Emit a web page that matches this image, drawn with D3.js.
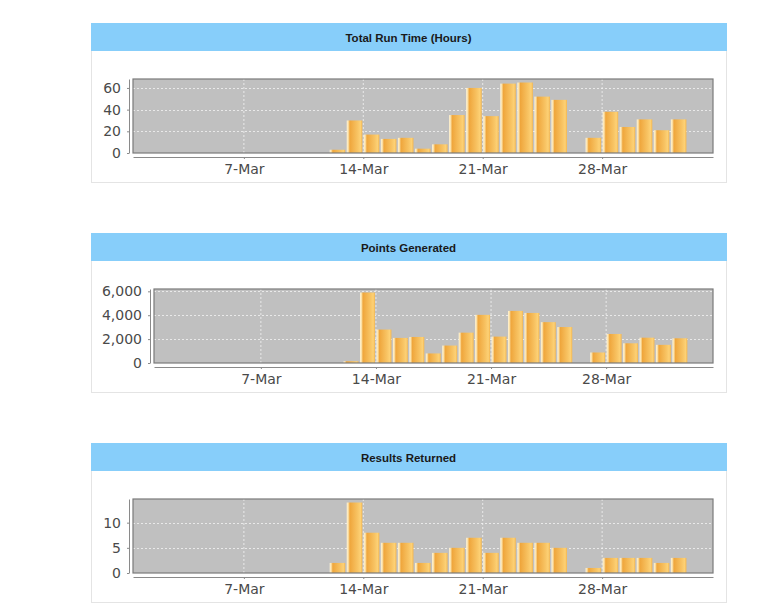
<!DOCTYPE html>
<html>
<head>
<meta charset="utf-8">
<script src="https://cdn.jsdelivr.net/npm/d3@7"></script>
<style>
  html, body { margin: 0; padding: 0; background: #fff; }
  svg { display: block; }
</style>
</head>
<body>
<svg id="chart" width="768" height="614"></svg>
<script>
// --- data ---
const days = [
    "2012-03-12", "2012-03-13", "2012-03-14", "2012-03-15", "2012-03-16", "2012-03-17", "2012-03-18",
    "2012-03-19", "2012-03-20", "2012-03-21", "2012-03-22", "2012-03-23", "2012-03-24", "2012-03-25",
    "2012-03-26", "2012-03-27", "2012-03-28", "2012-03-29", "2012-03-30", "2012-03-31", "2012-04-01",
];
const runTimeHours = [3, 30, 17, 13, 14, 4, 8, 35, 60, 34, 64, 65, 52, 49, null, 14, 38, 24, 31, 21, 31];
const pointsGenerated = [150, 5900, 2800, 2100, 2180, 800, 1460, 2540, 4030, 2210, 4360, 4190, 3420, 3010, null, 880, 2430, 1650, 2120, 1520, 2070];
const resultsReturned = [2, 14, 8, 6, 6, 2, 4, 5, 7, 4, 7, 6, 6, 5, null, 1, 3, 3, 3, 2, 3];

const runTimeTicks = [0, 20, 40, 60];
const pointsTicks = [0, 2000, 4000, 6000];
const resultsTicks = [0, 5, 10];
const dateTicks = ["2012-03-07", "2012-03-14", "2012-03-21", "2012-03-28"];
const dateRange = ["2012-02-29T12:00:00Z", "2012-04-03T12:00:00Z"];
const titles = ["Total Run Time (Hours)", "Points Generated", "Results Returned"];

// --- layout ---
const CARD = { X: 91, Y: 23, WIDTH: 635, HEIGHT: 159, TITLE_H: 28, STEP: 210 };
const PLOT = { TOP: 56, HEIGHT: 74, RIGHT: 713 };
const PANELS = [
    { title: titles[0], values: runTimeHours, ticks: runTimeTicks, left: 133 },
    { title: titles[1], values: pointsGenerated, ticks: pointsTicks, left: 154 },
    { title: titles[2], values: resultsReturned, ticks: resultsTicks, left: 133 },
];

const svg = d3.select("#chart");
const parseDay = (s) => new Date(s + "T00:00:00Z");

// bar gradient (JFreeChart-ish gradient painter)
const grad = svg.append("defs").append("linearGradient")
    .attr("id", "barGrad").attr("x1", 0).attr("x2", 1).attr("y1", 0).attr("y2", 0);
[
    [0, "#fff4d8"], [0.1, "#fbe0a6"], [0.2, "#efa63c"],
    [0.7, "#f8c464"], [0.88, "#fdd175"], [1, "#f3b650"],
].forEach(([o, c]) => grad.append("stop").attr("offset", o).attr("stop-color", c));

/**
 * 1 パネル分を描画する
 */
function drawPanel(p, i) {
    const cy = CARD.Y + i * CARD.STEP;
    const g = svg.append("g");

    // card
    g.append("rect")
        .attr("x", CARD.X + 0.5).attr("y", cy + 0.5)
        .attr("width", CARD.WIDTH).attr("height", CARD.HEIGHT)
        .attr("fill", "#fff").attr("stroke", "#e4e4e4");
    g.append("rect")
        .attr("x", CARD.X).attr("y", cy)
        .attr("width", CARD.WIDTH + 1).attr("height", CARD.TITLE_H)
        .attr("fill", "#87cefa");
    g.append("text")
        .attr("x", CARD.X + CARD.WIDTH / 2).attr("y", cy + 18.5)
        .attr("text-anchor", "middle")
        .style("font-family", "'Liberation Sans', Arial, sans-serif")
        .style("font-weight", "bold")
        .style("font-size", "11.5px")
        .style("fill", "#1a1a1a")
        .text(p.title);

    const top = cy + PLOT.TOP;
    const bottom = top + PLOT.HEIGHT;
    const x = d3.scaleUtc().domain(dateRange.map((d) => new Date(d))).range([p.left, PLOT.RIGHT]);
    const y = d3.scaleLinear().domain([0, d3.max(p.values) * 1.05]).range([bottom, top]);

    // plot background
    g.append("rect")
        .attr("x", p.left).attr("y", top)
        .attr("width", PLOT.RIGHT - p.left).attr("height", PLOT.HEIGHT)
        .attr("fill", "#c0c0c0");

    // grid
    g.selectAll(".hgrid").data(p.ticks.slice(1)).enter().append("line")
        .attr("x1", p.left).attr("x2", PLOT.RIGHT)
        .attr("y1", (d) => Math.round(y(d)) + 0.5).attr("y2", (d) => Math.round(y(d)) + 0.5)
        .attr("stroke", "#f4f4f4").attr("stroke-width", 0.8).attr("stroke-dasharray", "2,2");
    g.selectAll(".vgrid").data(dateTicks.map(parseDay)).enter().append("line")
        .attr("x1", (d) => x(d)).attr("x2", (d) => x(d))
        .attr("y1", top).attr("y2", bottom)
        .attr("stroke", "#f4f4f4").attr("stroke-width", 0.8).attr("stroke-dasharray", "2,2");

    // bars
    const rows = days.map((d, k) => ({ day: parseDay(d), v: p.values[k] })).filter((r) => r.v != null);
    g.selectAll(".bar").data(rows).enter().append("rect")
        .attr("x", (d) => x(d.day) + 0.5)
        .attr("width", (d) => x(d3.utcDay.offset(d.day, 1)) - x(d.day) - 1.5)
        .attr("y", (d) => y(d.v))
        .attr("height", (d) => bottom - y(d.v))
        .attr("fill", "url(#barGrad)");

    // plot outline
    g.append("rect")
        .attr("x", p.left).attr("y", top)
        .attr("width", PLOT.RIGHT - p.left).attr("height", PLOT.HEIGHT)
        .attr("fill", "none").attr("stroke", "#7a7a7a").attr("stroke-width", 1.2);

    // axes
    const xAxis = g.append("g")
        .attr("transform", `translate(0,${bottom + 4})`)
        .call(d3.axisBottom(x)
            .tickValues(dateTicks.map(parseDay))
            .tickFormat(d3.utcFormat("%-d-%b"))
            .tickSize(2).tickSizeOuter(0).tickPadding(5));
    const yAxis = g.append("g")
        .attr("transform", `translate(${p.left - 4},0)`)
        .call(d3.axisLeft(y)
            .tickValues(p.ticks)
            .tickFormat(d3.format(","))
            .tickSize(2).tickSizeOuter(0).tickPadding(6));

    [xAxis, yAxis].forEach((a) => {
        a.select(".domain").attr("stroke", "#8a8a8a");
        a.selectAll(".tick line").attr("stroke", "#8a8a8a");
        a.selectAll("text")
            .style("font-family", "'DejaVu Sans', sans-serif")
            .style("font-size", "14px")
            .style("fill", "#4a4a4a");
    });
}

PANELS.forEach(drawPanel);
</script>
</body>
</html>
